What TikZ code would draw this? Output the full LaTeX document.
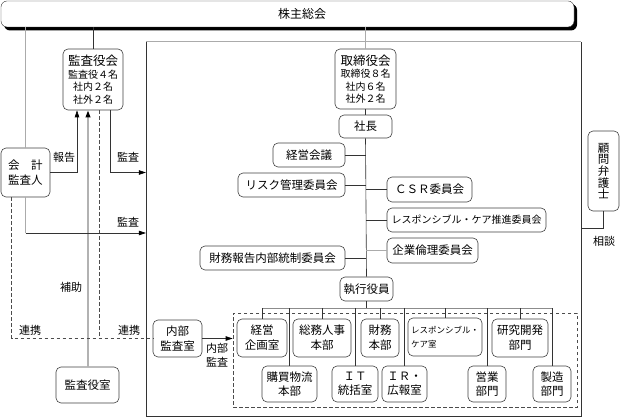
\documentclass[tikz,border=0pt]{standalone}
\usepackage{fontspec}
\setmainfont{Noto Sans CJK JP}
\usetikzlibrary{arrows.meta}
\begin{document}
\begin{tikzpicture}[x=1pt,y=-1pt,
  bx/.style={draw=black!75, line width=0.6pt, rounded corners=5pt, fill=white, inner sep=0pt, align=center, font=\fontsize{11.5}{15}\selectfont},
  ln/.style={draw=black!80, line width=0.6pt},
  gl/.style={draw=black!33, line width=1.2pt},
  dl/.style={draw=black!70, line width=0.6pt, dash pattern=on 3.5pt off 2.5pt},
  arr/.style={-{Triangle[length=7pt,width=4.5pt,color=black]}},
  lbl/.style={font=\fontsize{11}{14}\selectfont, inner sep=0pt, align=center}]
\useasboundingbox (0,0) rectangle (623,419);

% top bar
\fill[black, rounded corners=6pt] (4,4) rectangle (577,30.5);
\node[draw=black!80, fill=white, rounded corners=6pt, minimum width=573, minimum height=26, inner sep=0pt] (top) at (287.5,14) {};
\node[lbl, font=\fontsize{12}{14}\selectfont] (toplbl) at (302,14) {株主総会};

% main box
\node[minimum width=435, minimum height=374, inner sep=0pt] (mainbox) at (363.5,229) {};
\draw[ln] (mainbox.north west) -- (mainbox.south west) -- (mainbox.south east) -- (mainbox.north east);
\draw[gl] (mainbox.north west) -- (mainbox.north east);

% dashed group box
\node[dl, minimum width=344, minimum height=94, inner sep=0pt] (dbox) at (405,360) {};

% left side boxes
\node[bx, minimum width=60, minimum height=61, font=\fontsize{10}{12.5}\selectfont] (kansa) at (93,79.5)
  {{\fontsize{12.5}{14}\selectfont 監査役会}\\監査役４名\\社内２名\\社外２名};
\node[bx, minimum width=49, minimum height=49] (kaikei) at (25.5,172.5) {会\hspace{1em}計\\監査人};
\node[bx, minimum width=63, minimum height=36] (shitsu) at (87.5,385) {監査役室};
\node[bx, minimum width=49, minimum height=37] (naibu) at (177.5,338.5) {内部\\監査室};

% center column
\node[bx, minimum width=61, minimum height=60, font=\fontsize{10}{12.5}\selectfont] (tori) at (365.5,79)
  {{\fontsize{12.5}{14}\selectfont 取締役会}\\取締役８名\\社内６名\\社外２名};
\node[bx, minimum width=53, minimum height=23] (shacho) at (365.5,126.5) {社長};
\node[bx, minimum width=72, minimum height=24] (keieikaigi) at (309,155) {経営会議};
\node[bx, minimum width=107, minimum height=24] (risk) at (291.5,185) {リスク管理委員会};
\node[bx, minimum width=145, minimum height=24] (zaimuhokoku) at (272.5,258) {財務報告内部統制委員会};
\node[bx, minimum width=85, minimum height=25] (csr) at (429.5,189.5) {ＣＳＲ委員会};
\node[bx, minimum width=159, minimum height=24, font=\fontsize{10}{12}\selectfont] (rc) at (466.5,220) {レスポンシブル・ケア推進委員会};
\node[bx, minimum width=91, minimum height=25] (rinri) at (432.5,250.5) {企業倫理委員会};
\node[bx, minimum width=53, minimum height=24] (shikko) at (366.5,289) {執行役員};

% right
\node[bx, minimum width=31, minimum height=80, font=\fontsize{11.5}{11.7}\selectfont] (komon) at (603.5,171) {顧\\問\\弁\\護\\士};

% departments top row
\node[bx, minimum width=50, minimum height=38] (kikaku) at (262,338) {経営\\企画室};
\node[bx, minimum width=58, minimum height=38] (somu) at (322,338) {総務人事\\本部};
\node[bx, minimum width=38, minimum height=38] (zaimu) at (380,338) {財務\\本部};
\node[bx, minimum width=74, minimum height=38, align=left, font=\fontsize{8.5}{14}\selectfont] (rcshitsu) at (445,337) {レスポンシブル・\\ケア室};
\node[bx, minimum width=56, minimum height=38] (kenkyu) at (520,338) {研究開発\\部門};
% bottom row
\node[bx, minimum width=55, minimum height=36, font=\fontsize{11.5}{14}\selectfont] (kobai) at (289.5,384) {購買物流\\本部};
\node[bx, minimum width=46, minimum height=36, font=\fontsize{11.5}{14}\selectfont] (it) at (355,384) {ＩＴ\\統括室};
\node[bx, minimum width=45, minimum height=36, font=\fontsize{11.5}{14}\selectfont] (ir) at (404.5,384) {ＩＲ・\\広報室};
\node[bx, minimum width=38, minimum height=36, font=\fontsize{11.5}{14}\selectfont] (eigyo) at (487,384) {営業\\部門};
\node[bx, minimum width=38, minimum height=36, font=\fontsize{11.5}{14}\selectfont] (seizo) at (552,384) {製造\\部門};

% connectors from top bar
\draw[gl] (kaikei.north) -- (kaikei.north |- top.south);
\draw[ln] (kansa.north) -- (kansa.north |- top.south);
\draw[gl, line width=0.9pt] (tori.north) -- (tori.north |- top.south);

% center trunk
\draw[ln] (tori.south) -- (shacho.north);
\draw[ln] (shacho.south) -- (shikko.north);
\draw[ln] (keieikaigi.east) -- (keieikaigi.east -| shacho.south);
\draw[ln] (risk.east) -- (risk.east -| shacho.south);
\draw[ln] (zaimuhokoku.east) -- (zaimuhokoku.east -| shacho.south);
\draw[ln] (csr.west) -- (csr.west -| shacho.south);
\draw[ln] (rc.west) -- (rc.west -| shacho.south);
\draw[gl, line width=0.9pt] (rinri.west) -- (rinri.west -| shacho.south);

% bus
\coordinate (busL) at (262,308);
\coordinate (busR) at (552,308);
\draw[draw=black!45, line width=0.8pt] (busL) -- (busR);
\draw[ln] (shikko.south) -- (shikko.south |- busL);
\foreach \n in {kikaku,somu,zaimu,rcshitsu,kenkyu,kobai,it,ir,eigyo,seizo}
  \draw[ln] (\n.north) -- (\n.north |- busL);

% komon
\coordinate (soudan) at (581,228);
\draw[ln] (komon.south) |- (soudan);
\node[lbl] (soudanlbl) at (604,241) {相談};

% left side connectors
\coordinate (kr) at ([xshift=-16]kansa.south);
\coordinate (kh) at ([xshift=-5]kansa.south);
\coordinate (kd) at ([xshift=6]kansa.south);
\coordinate (ka) at ([xshift=17]kansa.south);
\coordinate (y233) at (0,233);
\coordinate (kkd) at ([xshift=11]kaikei.south west);

\draw[ln, arr] (kaikei.east) -| (kr);
\draw[gl, line width=1.8pt, draw=black!30, arr] (shitsu.north -| kh) -- (kh);
\draw[dl] (kd) -- (kd |- naibu.west);
\draw[ln, arr] (ka) |- (mainbox.west |- kaikei.east);
\draw[gl] (kaikei.south) -- (kaikei.south |- y233);
\draw[ln, arr] (kaikei.south |- y233) -- (mainbox.west |- y233);
\draw[dl] (kkd) |- (naibu.west);
\draw[ln, arr] (naibu.east) -- (naibu.east -| dbox.west);

% labels
\node[lbl] (l1) at (64,157) {報告};
\node[lbl] (l2) at (128,157) {監査};
\node[lbl] (l3) at (128,222) {監査};
\node[lbl] (l4) at (71,287) {補助};
\node[lbl] (l5) at (30,330) {連携};
\node[lbl] (l6) at (129,330) {連携};
\node[lbl] (l7) at (217,355) {内部\\監査};
\end{tikzpicture}
\end{document}
